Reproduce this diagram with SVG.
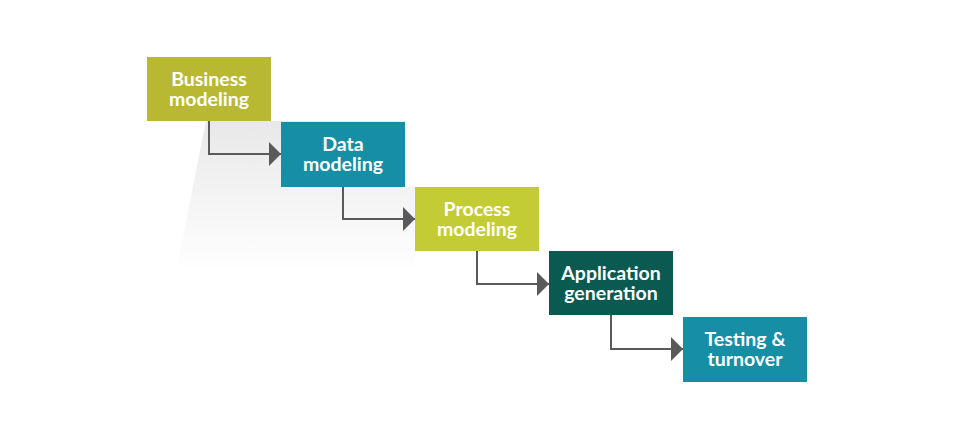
<svg xmlns="http://www.w3.org/2000/svg" width="954" height="439" viewBox="0 0 954 439">
<defs>
<linearGradient id="shade" gradientUnits="userSpaceOnUse" x1="0" y1="121" x2="0" y2="272">
<stop offset="0" stop-color="#e8e8e8"/>
<stop offset="1" stop-color="#ffffff"/>
</linearGradient>
<marker id="arr" markerWidth="12" markerHeight="24" refX="12" refY="12" orient="auto" markerUnits="userSpaceOnUse">
<path d="M0,0 L12,12 L0,24 Z" fill="#5a5a5a"/>
</marker>
<style>
.lbl{font-family:Lato,"Open Sans","Liberation Sans",sans-serif;font-weight:bold;font-size:19.5px;fill:#ffffff;text-anchor:middle}
.conn{fill:none;stroke:#5a5a5a;stroke-width:2}
</style>
</defs>
<rect width="954" height="439" fill="#ffffff"/>
<polygon points="206,121 405,121 405,187 415,187 415,272 176,272" fill="url(#shade)"/>
<g id="connectors">
<path class="conn" d="M209,121 V154 H281" marker-end="url(#arr)"/>
<path class="conn" d="M343,187 V219 H415" marker-end="url(#arr)"/>
<path class="conn" d="M477,251 V284 H549" marker-end="url(#arr)"/>
<path class="conn" d="M611,315 V349 H683" marker-end="url(#arr)"/>
</g>
<g id="business">
<rect x="147" y="57" width="124" height="64" fill="#b9b833"/>
<text class="lbl" x="209" y="86">Business</text>
<text class="lbl" x="209" y="106">modeling</text>
</g>
<g id="data">
<rect x="281" y="122" width="124" height="65" fill="#168ea6"/>
<text class="lbl" x="343" y="151">Data</text>
<text class="lbl" x="343" y="171">modeling</text>
</g>
<g id="process">
<rect x="415" y="187" width="124" height="64" fill="#c4cc35"/>
<text class="lbl" x="477" y="216">Process</text>
<text class="lbl" x="477" y="236">modeling</text>
</g>
<g id="application">
<rect x="549" y="251" width="124" height="64" fill="#0a5a52"/>
<text class="lbl" x="611" y="280">Application</text>
<text class="lbl" x="611" y="300">generation</text>
</g>
<g id="testing">
<rect x="683" y="317" width="124" height="65" fill="#168ea6"/>
<text class="lbl" x="745" y="346">Testing &amp;</text>
<text class="lbl" x="745" y="366">turnover</text>
</g>
</svg>
